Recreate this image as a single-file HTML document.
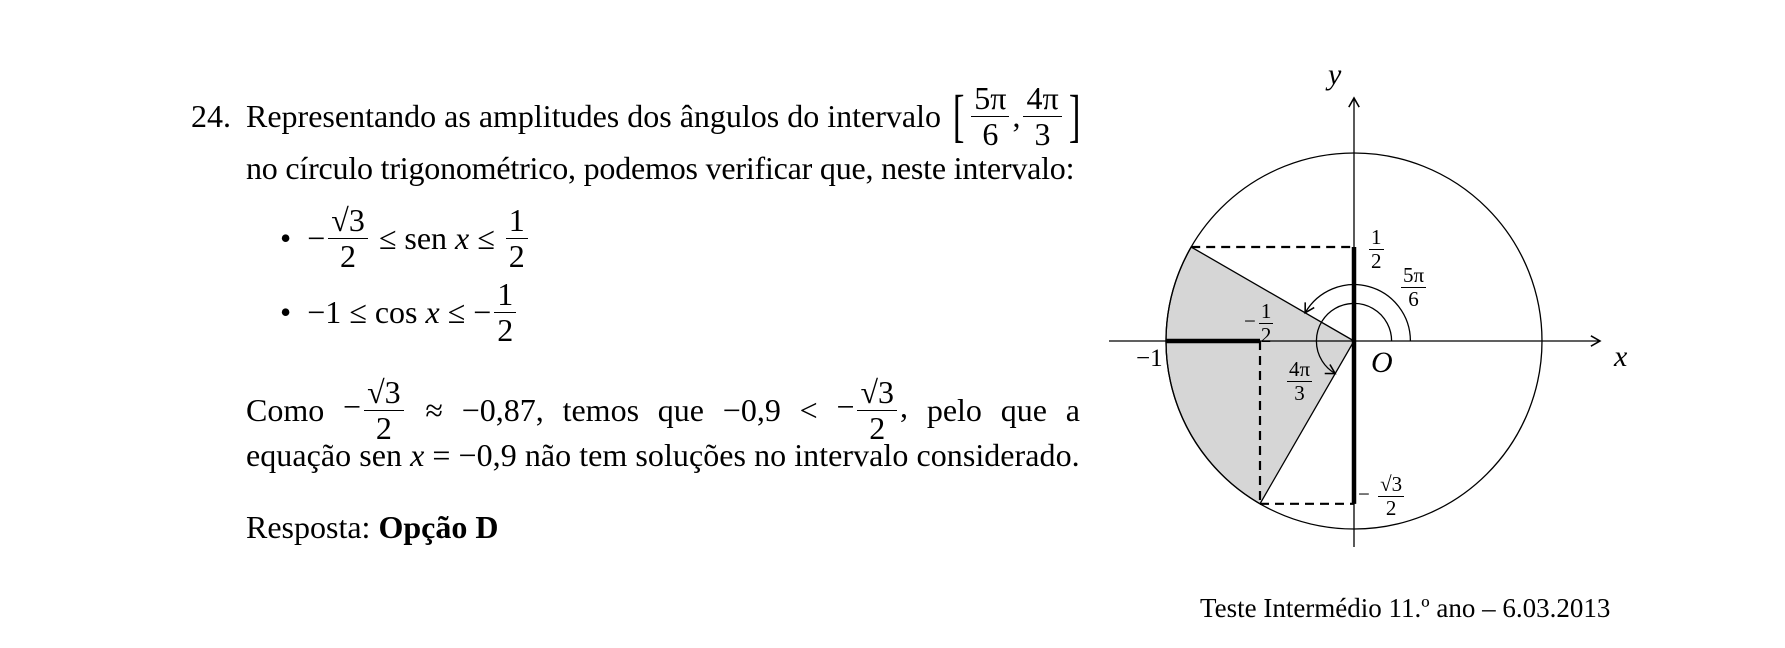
<!DOCTYPE html>
<html><head><meta charset="utf-8">
<style>
body{margin:0;width:1785px;height:618px;background:#fff;position:relative;overflow:hidden;font-family:"Liberation Serif",serif;color:#000}
.t{position:absolute;font-size:32px;white-space:nowrap;line-height:1;display:flex;align-items:center;height:80px}
.fr{display:inline-flex;flex-direction:column;align-items:center;vertical-align:middle;line-height:1.08;margin:0 3px}
.fr span:first-child{border-bottom:1.5px solid #000;padding:0 3px}
i{font-style:italic}
.s{position:absolute;font-size:21px;white-space:nowrap;line-height:1}
.s .fr span:first-child{border-bottom:1px solid #000;padding:0 2px}
</style></head><body>
<div class="t" style="left:191px;top:76px">24.</div>
<div class="t" style="left:246px;top:76px">Representando as amplitudes dos ângulos do intervalo&nbsp;<span style="font-size:58px;font-weight:100;transform:scaleX(0.6);display:inline-block">[</span><span class="fr"><span>5π</span><span>6</span></span>,<span class="fr"><span>4π</span><span>3</span></span><span style="font-size:58px;font-weight:100;transform:scaleX(0.6);display:inline-block">]</span></div>
<div class="t" style="left:246px;top:128px;letter-spacing:-0.2px">no círculo trigonométrico, podemos verificar que, neste intervalo:</div>
<div class="t" style="left:280px;top:198px">•&nbsp; −<span class="fr"><span>√3</span><span>2</span></span>&nbsp;≤ sen <i>&nbsp;x</i>&nbsp;≤&nbsp;<span class="fr"><span>1</span><span>2</span></span></div>
<div class="t" style="left:280px;top:272px">•&nbsp; −1 ≤ cos <i>&nbsp;x</i>&nbsp;≤ −<span class="fr"><span>1</span><span>2</span></span></div>
<div class="t" style="left:246px;top:370px;width:834px;justify-content:space-between"><span>Como</span><span>−<span class="fr"><span>√3</span><span>2</span></span></span><span>≈</span><span>−0,87,</span><span>temos</span><span>que</span><span>−0,9</span><span>&lt;</span><span>−<span class="fr"><span>√3</span><span>2</span></span>,</span><span>pelo</span><span>que</span><span>a</span></div>
<div class="t" style="left:246px;top:415px;letter-spacing:0.05px">equação sen <i>&nbsp;x</i>&nbsp;= −0,9 não tem soluções no intervalo considerado.</div>
<div class="t" style="left:246px;top:487px">Resposta:&nbsp;<b>Opção D</b></div>
<div class="t" style="left:1200px;top:568px;font-size:27px">Teste Intermédio 11.º ano – 6.03.2013</div>

<svg id="fig" width="1785" height="618" style="position:absolute;left:0;top:0">
<defs><marker id="ar" markerWidth="10" markerHeight="10" refX="8" refY="5" orient="auto"><path d="M1,1 L8,5 L1,9" fill="none" stroke="#000" stroke-width="1.2"/></marker></defs>
</svg>
<div class="s" style="left:1328px;top:60px;font-size:30px"><i>y</i></div>
<div class="s" style="left:1614px;top:342px;font-size:30px"><i>x</i></div>
<div class="s" style="left:1371px;top:348px;font-size:30px"><i>O</i></div>
<div class="s" style="left:1136px;top:346px;font-size:25px">−1</div>
<div class="s" style="left:1366px;top:226px"><span class="fr"><span>1</span><span>2</span></span></div>
<div class="s" style="left:1398px;top:264px"><span class="fr"><span>5π</span><span>6</span></span></div>
<div class="s" style="left:1244px;top:300px">−<span class="fr"><span>1</span><span>2</span></span></div>
<div class="s" style="left:1284px;top:358px"><span class="fr"><span>4π</span><span>3</span></span></div>
<div class="s" style="left:1358px;top:473px">− <span class="fr"><span>√3</span><span>2</span></span></div>
<script>
const angles=[5*Math.PI/6,4*Math.PI/3];
const arcRadii=[0.30,0.20];
const cx=1354,cy=341,R=188;
const svg=document.getElementById('fig');
const NS='http://www.w3.org/2000/svg';
const X=v=>cx+v*R, Y=v=>cy-v*R;
function mk(tag,at){const e=document.createElementNS(NS,tag);for(const k in at)e.setAttribute(k,at[k]);svg.appendChild(e);return e;}
const c1=[Math.cos(angles[0]),Math.sin(angles[0])],c2=[Math.cos(angles[1]),Math.sin(angles[1])];
let e=mk('path',{d:`M${cx},${cy} L${X(c1[0])},${Y(c1[1])} A${R},${R} 0 0 0 ${X(c2[0])},${Y(c2[1])} Z`,fill:'#d6d6d6',stroke:'#000','stroke-width':1.3});


e=mk('circle',{cx,cy,r:R,fill:'none',stroke:'#000','stroke-width':1.3});


e=mk('line',{x1:1109,y1:cy,x2:1600,y2:cy,stroke:'#000','stroke-width':1.3,'marker-end':'url(#ar)'});


e=mk('line',{x1:cx,y1:547,x2:cx,y2:98,stroke:'#000','stroke-width':1.3,'marker-end':'url(#ar)'});


const dash={stroke:'#000','stroke-width':2.2,'stroke-dasharray':'9,6',fill:'none'};
e=mk('line',Object.assign({x1:X(c1[0]),y1:Y(c1[1]),x2:cx,y2:Y(c1[1])},dash));


e=mk('line',Object.assign({x1:X(c2[0]),y1:Y(c2[1]),x2:cx,y2:Y(c2[1])},dash));


e=mk('line',Object.assign({x1:X(c2[0]),y1:cy,x2:X(c2[0]),y2:Y(c2[1])},dash));


e=mk('line',{x1:cx,y1:Y(c1[1]),x2:cx,y2:Y(c2[1]),stroke:'#000','stroke-width':4.5});


e=mk('line',{x1:X(-1),y1:cy,x2:X(c2[0]),y2:cy,stroke:'#000','stroke-width':4.5});


angles.forEach((a,i)=>{const r=arcRadii[i]*R;
 const large=a>Math.PI?1:0;
 const p=mk('path',{d:`M${cx+r},${cy} A${r},${r} 0 ${large} 0 ${cx+r*Math.cos(a)},${cy-r*Math.sin(a)}`,fill:'none',stroke:'#000','stroke-width':1.3,'marker-end':'url(#ar)'});
 
 });
</script>
</body></html>
